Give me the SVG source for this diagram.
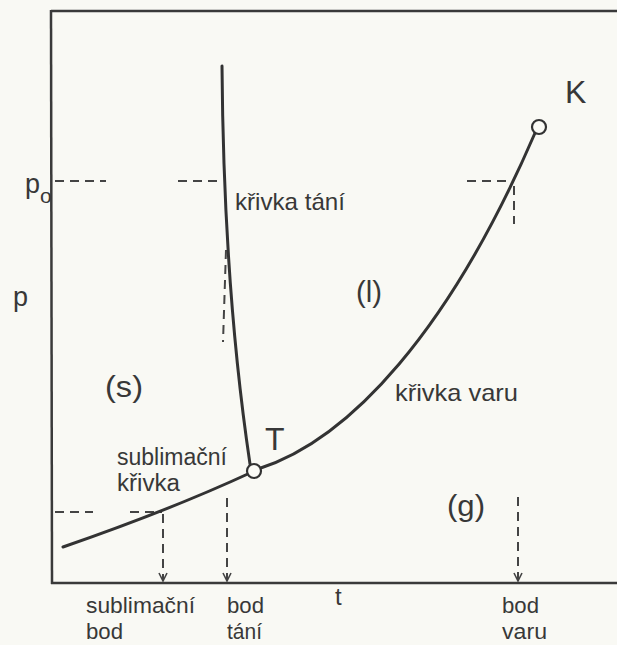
<svg xmlns="http://www.w3.org/2000/svg" width="617" height="645" viewBox="0 0 617 645">
<defs>
<style>
.ax{stroke:#3a3a3a;stroke-width:2.5;fill:none}
.cv{stroke:#333;stroke-width:3;fill:none;stroke-linecap:round}
.ds{stroke:#444;stroke-width:2;fill:none;stroke-dasharray:9 6}
.pt{fill:#fbfbf6;stroke:#333;stroke-width:2.2}
text{font-family:"Liberation Sans",Arial,sans-serif;fill:#383838}
.s22{font-size:22px}
.s23{font-size:23px}
.s24{font-size:24px}
.s30{font-size:30px}
.s32{font-size:32px}
</style>
<marker id="ah" viewBox="0 0 10 10" refX="9" refY="5" markerWidth="10" markerHeight="10" markerUnits="userSpaceOnUse" orient="auto">
<polyline points="1,1 9,5 1,9" fill="none" stroke="#444" stroke-width="1.6"/>
</marker>
</defs>
<rect width="617" height="645" fill="#f9f9f4"/>
<g id="axes">
<line class="ax" x1="51" y1="11" x2="617" y2="11"/>
<line class="ax" x1="51" y1="10" x2="52" y2="584"/>
<line class="ax" x1="51" y1="583" x2="617" y2="583"/>
</g>
<g id="guides">
<line class="ds" x1="55" y1="181" x2="106" y2="181"/>
<line class="ds" x1="178" y1="181" x2="223" y2="181"/>
<line class="ds" x1="467" y1="181" x2="513" y2="181"/>
<line class="ds" x1="514" y1="186" x2="514" y2="224"/>
<line class="ds" x1="226" y1="250" x2="223" y2="342"/>
<line class="ds" x1="55" y1="512" x2="93" y2="512"/>
<line class="ds" x1="130" y1="512" x2="162" y2="512"/>
</g>
<g id="connectors">
<line class="ds" x1="163" y1="514" x2="163" y2="581" marker-end="url(#ah)"/>
<line class="ds" x1="227" y1="498" x2="227" y2="581" marker-end="url(#ah)"/>
<line class="ds" x1="518" y1="497" x2="518" y2="581" marker-end="url(#ah)"/>
</g>
<g id="curves">
<path id="krivka-tani" class="cv" d="M222,66 C223,200 230,330 250,464"/>
<path id="sublimacni-krivka" class="cv" d="M63,547 Q170,510 250,473"/>
<path id="krivka-varu" class="cv" d="M258,469 C350,440 450,330 535,133"/>
</g>
<g id="node-T"><circle class="pt" cx="254" cy="471" r="7"/><text class="s32" x="265" y="450">T</text></g>
<g id="node-K"><circle class="pt" cx="539" cy="127" r="7"/><text class="s32" x="565" y="103">K</text></g>
<g id="labels">
<text class="s30" x="105" y="397" textLength="38" lengthAdjust="spacingAndGlyphs">(s)</text>
<text class="s30" x="356" y="302" textLength="26" lengthAdjust="spacingAndGlyphs">(l)</text>
<text class="s30" x="447" y="516" textLength="38" lengthAdjust="spacingAndGlyphs">(g)</text>
<text font-size="27" x="13" y="306">p</text>
<text font-size="27" x="25" y="193">p</text>
<text font-size="21" x="40" y="203">o</text>
<text class="s24" x="235" y="210" textLength="110" lengthAdjust="spacingAndGlyphs">křivka tání</text>
<text class="s24" x="395" y="401" textLength="123" lengthAdjust="spacingAndGlyphs">křivka varu</text>
<text class="s23" x="117" y="465" textLength="110" lengthAdjust="spacingAndGlyphs">sublimační</text>
<text class="s23" x="117" y="491" textLength="63" lengthAdjust="spacingAndGlyphs">křivka</text>
<text class="s22" x="86" y="613" textLength="109" lengthAdjust="spacingAndGlyphs">sublimační</text>
<text class="s22" x="86" y="639" textLength="37" lengthAdjust="spacingAndGlyphs">bod</text>
<text class="s22" x="227" y="613" textLength="37" lengthAdjust="spacingAndGlyphs">bod</text>
<text class="s22" x="227" y="639" textLength="35" lengthAdjust="spacingAndGlyphs">tání</text>
<text class="s24" x="335" y="605">t</text>
<text class="s22" x="502" y="613" textLength="37" lengthAdjust="spacingAndGlyphs">bod</text>
<text class="s22" x="502" y="639" textLength="45" lengthAdjust="spacingAndGlyphs">varu</text>
</g>
</svg>
